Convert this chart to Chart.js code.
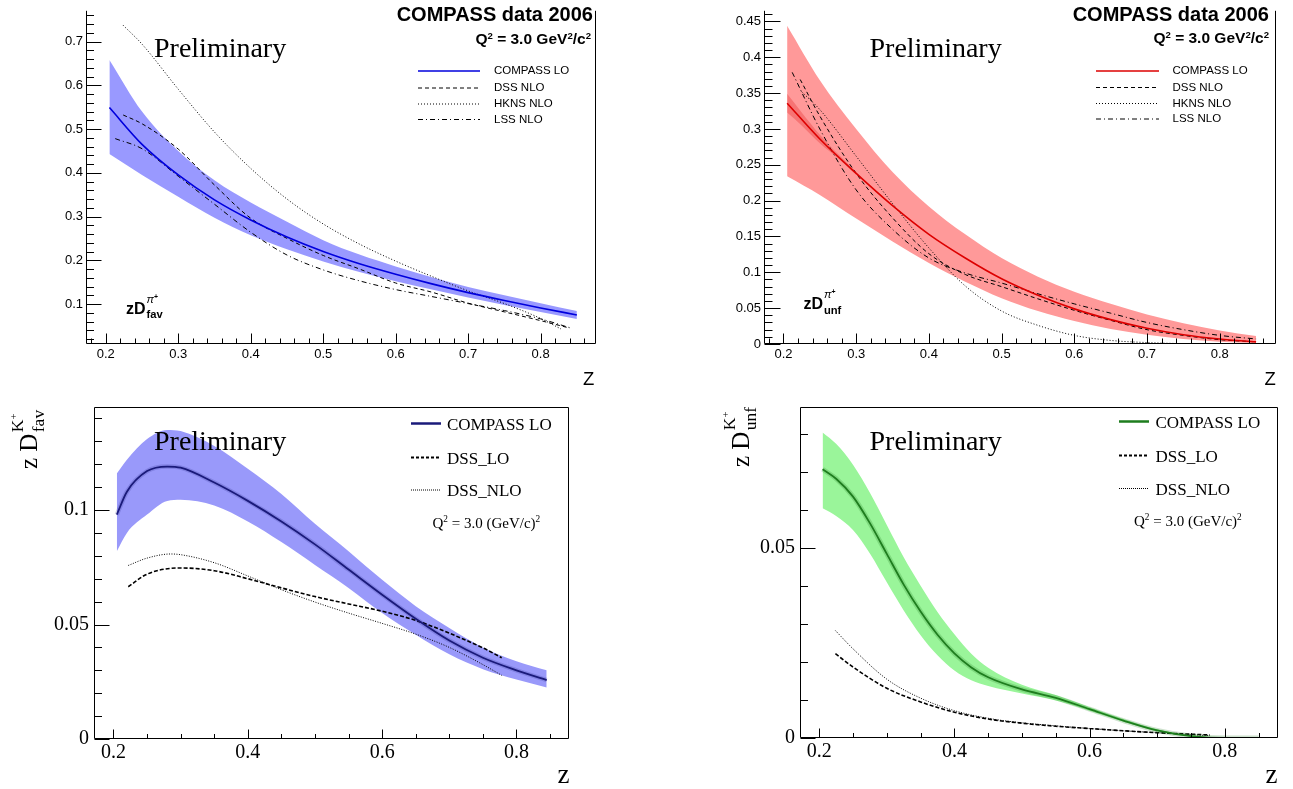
<!DOCTYPE html>
<html>
<head>
<meta charset="utf-8">
<script src="https://cdn.jsdelivr.net/npm/chart.js@4.4.1/dist/chart.umd.min.js"></script>
<style>
  body { margin: 0; background: #fff; width: 1293px; height: 789px; overflow: hidden; position: relative; }
  canvas { position: absolute; }
  svg { position: absolute; left: 0; top: 0; }
  .t { position: absolute; white-space: nowrap; line-height: 1; color: #000; }
  .sans { font-family: "Liberation Sans", Arial, sans-serif; }
  .serif { font-family: "Liberation Serif", "Times New Roman", serif; }
  .b { font-weight: bold; }
  .vc { transform: translateY(-50%); }
  .rc { transform: translate(-100%, -50%); }
  sup { font-size: 0.62em; vertical-align: 0.55em; line-height: 0; }
  .ss { position: relative; display: inline-block; width: 1.2em; height: 0; }
  .ss .u { position: absolute; left: 0.08em; bottom: 0.75em; font-size: 0.7em; line-height: 1; }
  .ss .d { position: absolute; left: 0.08em; top: -0.4em; font-size: 0.7em; line-height: 1; }
  .serif .ss .u { bottom: 0.62em; }
  .rot { transform: rotate(-90deg); transform-origin: 0 0; }
</style>
</head>
<body>
<canvas id="c1" width="600" height="390" style="left:0;top:0;width:600px;height:390px"></canvas>
<canvas id="c2" width="640" height="390" style="left:640px;top:0;width:640px;height:390px"></canvas>
<canvas id="c3" width="600" height="399" style="left:0;top:390px;width:600px;height:399px"></canvas>
<canvas id="c4" width="653" height="399" style="left:640px;top:390px;width:653px;height:399px"></canvas>

<svg width="1293" height="789">
  <!-- top left legend -->
  <line x1="418" y1="71" x2="480" y2="71" stroke="#0000dd" stroke-width="1.5"/>
  <line x1="418" y1="88" x2="480" y2="88" stroke="#000" stroke-width="1" stroke-dasharray="4 3"/>
  <line x1="418" y1="104" x2="480" y2="104" stroke="#000" stroke-width="1" stroke-dasharray="1 2"/>
  <line x1="418" y1="119.5" x2="480" y2="119.5" stroke="#000" stroke-width="1" stroke-dasharray="5 3 1 3"/>
  <!-- top right legend -->
  <line x1="1096" y1="71" x2="1159" y2="71" stroke="#dd0000" stroke-width="1.5"/>
  <line x1="1096" y1="87.5" x2="1159" y2="87.5" stroke="#000" stroke-width="1" stroke-dasharray="4 3"/>
  <line x1="1096" y1="103.5" x2="1159" y2="103.5" stroke="#000" stroke-width="1" stroke-dasharray="1 2"/>
  <line x1="1096" y1="119" x2="1159" y2="119" stroke="#000" stroke-width="1" stroke-dasharray="5 3 1 3"/>
  <!-- bottom left legend -->
  <line x1="411" y1="423.5" x2="441" y2="423.5" stroke="#1a1a7a" stroke-width="2.5"/>
  <line x1="411" y1="457.5" x2="441" y2="457.5" stroke="#000" stroke-width="2" stroke-dasharray="3 2"/>
  <line x1="411" y1="490" x2="441" y2="490" stroke="#000" stroke-width="1" stroke-dasharray="1 1"/>
  <!-- bottom right legend -->
  <line x1="1119" y1="421.5" x2="1149" y2="421.5" stroke="#1e7d1e" stroke-width="2.5"/>
  <line x1="1119" y1="455.5" x2="1149" y2="455.5" stroke="#000" stroke-width="2" stroke-dasharray="3 2"/>
  <line x1="1119" y1="488.5" x2="1149" y2="488.5" stroke="#000" stroke-width="1" stroke-dasharray="1 1"/>
</svg>

<!-- top left texts -->
<div class="t sans b rc" style="left:593px;top:14px;font-size:20px">COMPASS data 2006</div>
<div class="t sans b rc" style="left:591px;top:38.5px;font-size:15.5px">Q<sup>2</sup> = 3.0 GeV<sup>2</sup>/c<sup>2</sup></div>
<div class="t sans vc" style="left:494px;top:71px;font-size:11.5px">COMPASS LO</div>
<div class="t sans vc" style="left:494px;top:88px;font-size:11.5px">DSS NLO</div>
<div class="t sans vc" style="left:494px;top:104px;font-size:11.5px">HKNS NLO</div>
<div class="t sans vc" style="left:494px;top:119.5px;font-size:11.5px">LSS NLO</div>
<div class="t serif vc" style="left:154px;top:48px;font-size:28px">Preliminary</div>
<div class="t sans b" style="left:126px;top:300.8px;font-size:16px">zD<span class="ss"><span class="u"><i style="font-weight:normal">π</i><sup>+</sup></span><span class="d">fav</span></span></div>
<div class="t sans" style="left:583px;top:369.5px;font-size:18.5px">Z</div>

<!-- top right texts -->
<div class="t sans b rc" style="left:1269px;top:13.5px;font-size:20px">COMPASS data 2006</div>
<div class="t sans b rc" style="left:1269px;top:37.5px;font-size:15.5px">Q<sup>2</sup> = 3.0 GeV<sup>2</sup>/c<sup>2</sup></div>
<div class="t sans vc" style="left:1172.5px;top:71px;font-size:11.5px">COMPASS LO</div>
<div class="t sans vc" style="left:1172.5px;top:87.5px;font-size:11.5px">DSS NLO</div>
<div class="t sans vc" style="left:1172.5px;top:103.5px;font-size:11.5px">HKNS NLO</div>
<div class="t sans vc" style="left:1172.5px;top:119px;font-size:11.5px">LSS NLO</div>
<div class="t serif vc" style="left:869.5px;top:48px;font-size:28px">Preliminary</div>
<div class="t sans b" style="left:803.5px;top:296px;font-size:16px">zD<span class="ss"><span class="u"><i style="font-weight:normal">π</i><sup>+</sup></span><span class="d">unf</span></span></div>
<div class="t sans" style="left:1264.5px;top:369.5px;font-size:18.5px">Z</div>

<!-- bottom left texts -->
<div class="t serif rot" style="left:16px;top:469px;font-size:25px">z D<span class="ss"><span class="u">K<sup>+</sup></span><span class="d">fav</span></span></div>
<div class="t serif vc" style="left:447px;top:423.5px;font-size:17px">COMPASS LO</div>
<div class="t serif vc" style="left:447px;top:457.5px;font-size:17px">DSS_LO</div>
<div class="t serif vc" style="left:447px;top:490px;font-size:17px">DSS_NLO</div>
<div class="t serif vc" style="left:432.5px;top:523px;font-size:15px">Q<sup>2</sup> = 3.0 (GeV/c)<sup>2</sup></div>
<div class="t serif vc" style="left:154px;top:441px;font-size:28px">Preliminary</div>
<div class="t serif" style="left:557.5px;top:760.5px;font-size:27px">z</div>

<!-- bottom right texts -->
<div class="t serif rot" style="left:728px;top:467px;font-size:25px">z D<span class="ss"><span class="u">K<sup>+</sup></span><span class="d">unf</span></span></div>
<div class="t serif vc" style="left:1155.5px;top:421.5px;font-size:17px">COMPASS LO</div>
<div class="t serif vc" style="left:1155.5px;top:455.5px;font-size:17px">DSS_LO</div>
<div class="t serif vc" style="left:1155.5px;top:488.5px;font-size:17px">DSS_NLO</div>
<div class="t serif vc" style="left:1134px;top:521px;font-size:15px">Q<sup>2</sup> = 3.0 (GeV/c)<sup>2</sup></div>
<div class="t serif vc" style="left:869.5px;top:441px;font-size:28px">Preliminary</div>
<div class="t serif" style="left:1265.5px;top:760.5px;font-size:27px">z</div>

<script>
// ---------- top left: zD_fav pi+ ----------
const p1Z = [0.205, 0.25, 0.3, 0.35, 0.4, 0.45, 0.5, 0.55, 0.6, 0.65, 0.7, 0.75, 0.8, 0.85];
const p1Compass = [0.549, 0.465, 0.395, 0.338, 0.292, 0.253, 0.220, 0.192, 0.168, 0.146, 0.126, 0.108, 0.091, 0.075];
const p1Upper = [0.658, 0.540, 0.450, 0.383, 0.332, 0.288, 0.246, 0.213, 0.186, 0.161, 0.139, 0.120, 0.102, 0.084];
const p1Lower = [0.443, 0.395, 0.345, 0.297, 0.257, 0.225, 0.197, 0.173, 0.152, 0.133, 0.115, 0.098, 0.082, 0.066];
const p1DssZ = [0.224, 0.25, 0.3, 0.35, 0.4, 0.45, 0.5, 0.55, 0.6, 0.65, 0.7, 0.75, 0.8, 0.84];
const p1Dss = [0.532, 0.512, 0.454, 0.372, 0.296, 0.250, 0.211, 0.180, 0.148, 0.127, 0.102, 0.082, 0.062, 0.045];
const p1HknsZ = [0.224, 0.25, 0.3, 0.35, 0.4, 0.45, 0.5, 0.55, 0.6, 0.65, 0.7, 0.75, 0.8, 0.828];
const p1Hkns = [0.737, 0.694, 0.591, 0.493, 0.410, 0.340, 0.283, 0.237, 0.198, 0.163, 0.130, 0.101, 0.067, 0.043];
const p1LssZ = [0.213, 0.25, 0.3, 0.35, 0.4, 0.45, 0.5, 0.55, 0.6, 0.65, 0.7, 0.75, 0.8, 0.84];
const p1Lss = [0.478, 0.455, 0.392, 0.328, 0.264, 0.212, 0.178, 0.153, 0.133, 0.117, 0.101, 0.085, 0.066, 0.046];
const p1XTicks = [0.2, 0.3, 0.4, 0.5, 0.6, 0.7, 0.8];
const p1XLabels = ["0.2", "0.3", "0.4", "0.5", "0.6", "0.7", "0.8"];
const p1YTicks = [0.1, 0.2, 0.3, 0.4, 0.5, 0.6, 0.7];
const p1YLabels = ["0.1", "0.2", "0.3", "0.4", "0.5", "0.6", "0.7"];

// ---------- top right: zD_unf pi+ ----------
const p2Z = [0.205, 0.25, 0.3, 0.35, 0.4, 0.45, 0.5, 0.55, 0.6, 0.65, 0.7, 0.75, 0.8, 0.85];
const p2Compass = [0.336, 0.286, 0.238, 0.193, 0.153, 0.120, 0.091, 0.068, 0.049, 0.034, 0.022, 0.013, 0.007, 0.003];
const p2Upper = [0.444, 0.368, 0.300, 0.240, 0.192, 0.153, 0.120, 0.094, 0.073, 0.056, 0.041, 0.029, 0.019, 0.011];
const p2Lower = [0.234, 0.208, 0.175, 0.143, 0.113, 0.087, 0.064, 0.046, 0.032, 0.021, 0.013, 0.007, 0.003, 0.001];
const p2InnerZ = [0.205, 0.225, 0.25, 0.275, 0.3];
const p2InnerUp = [0.349, 0.323, 0.292, 0.265, 0.240];
const p2InnerLo = [0.323, 0.305, 0.280, 0.259, 0.236];
const p2DssZ = [0.223, 0.25, 0.3, 0.35, 0.4, 0.45, 0.5, 0.55, 0.6, 0.65, 0.7, 0.75, 0.8, 0.85];
const p2Dss = [0.369, 0.318, 0.238, 0.176, 0.126, 0.097, 0.080, 0.063, 0.047, 0.033, 0.020, 0.012, 0.006, 0.003];
const p2HknsZ = [0.225, 0.25, 0.3, 0.35, 0.4, 0.45, 0.5, 0.55, 0.6, 0.65, 0.7, 0.75, 0.8, 0.85];
const p2Hkns = [0.352, 0.327, 0.262, 0.196, 0.134, 0.081, 0.046, 0.026, 0.012, 0.005, 0.002, 0.0005, 0.0, 0.0];
const p2LssZ = [0.212, 0.25, 0.3, 0.35, 0.4, 0.45, 0.5, 0.55, 0.6, 0.65, 0.7, 0.75, 0.8, 0.85];
const p2Lss = [0.379, 0.300, 0.215, 0.160, 0.120, 0.099, 0.085, 0.070, 0.056, 0.043, 0.030, 0.020, 0.012, 0.007];
const p2XTicks = p1XTicks;
const p2XLabels = p1XLabels;
const p2YTicks = [0, 0.05, 0.1, 0.15, 0.2, 0.25, 0.3, 0.35, 0.4, 0.45];
const p2YLabels = ["0", "0.05", "0.1", "0.15", "0.2", "0.25", "0.3", "0.35", "0.4", "0.45"];

// ---------- bottom left: z D_fav K+ ----------
const p3Z = [0.205, 0.22, 0.25, 0.28, 0.3, 0.35, 0.4, 0.45, 0.5, 0.55, 0.6, 0.65, 0.7, 0.75, 0.8, 0.845];
const p3Compass = [0.098, 0.108, 0.117, 0.119, 0.1185, 0.112, 0.104, 0.095, 0.085, 0.074, 0.063, 0.0525, 0.043, 0.0355, 0.030, 0.0257];
const p3Upper = [0.116, 0.122, 0.131, 0.135, 0.1345, 0.128, 0.118, 0.107, 0.094, 0.082, 0.0695, 0.058, 0.0485, 0.040, 0.034, 0.030];
const p3Lower = [0.082, 0.090, 0.098, 0.104, 0.1045, 0.102, 0.095, 0.086, 0.076, 0.066, 0.055, 0.0455, 0.037, 0.0305, 0.026, 0.0225];
const p3DssLoZ = [0.222, 0.25, 0.3, 0.35, 0.4, 0.45, 0.5, 0.55, 0.6, 0.65, 0.7, 0.75, 0.778];
const p3DssLo = [0.0665, 0.072, 0.0747, 0.0735, 0.0700, 0.0660, 0.0622, 0.0590, 0.0558, 0.0518, 0.0462, 0.0398, 0.0355];
const p3DssNloZ = [0.222, 0.25, 0.285, 0.3, 0.35, 0.4, 0.45, 0.5, 0.55, 0.6, 0.65, 0.7, 0.75, 0.778];
const p3DssNlo = [0.0758, 0.079, 0.0808, 0.0805, 0.077, 0.0712, 0.0652, 0.0598, 0.0550, 0.0505, 0.0458, 0.0400, 0.0325, 0.0278];
const p3XTicks = [0.2, 0.4, 0.6, 0.8];
const p3XLabels = ["0.2", "0.4", "0.6", "0.8"];
const p3YTicks = [0, 0.05, 0.1];
const p3YLabels = ["0", "0.05", "0.1"];

// ---------- bottom right: z D_unf K+ ----------
const p4Z = [0.205, 0.225, 0.25, 0.275, 0.3, 0.325, 0.35, 0.375, 0.4, 0.425, 0.45, 0.5, 0.55, 0.6, 0.65, 0.7, 0.75, 0.8, 0.85];
const p4Compass = [0.0708, 0.0683, 0.0636, 0.0566, 0.0485, 0.0404, 0.0333, 0.0272, 0.0223, 0.0186, 0.0160, 0.0128, 0.0106, 0.0076, 0.0046, 0.0020, 0.0005, 0.0, 0.0];
const p4Upper = [0.0805, 0.0775, 0.0720, 0.0646, 0.0561, 0.0476, 0.0401, 0.0332, 0.0273, 0.0222, 0.0185, 0.0140, 0.0113, 0.0081, 0.0050, 0.0023, 0.0007, 0.0001, 0.0];
const p4Lower = [0.0605, 0.0585, 0.0548, 0.0486, 0.0410, 0.0336, 0.0271, 0.0218, 0.0178, 0.0152, 0.0137, 0.0117, 0.0099, 0.0072, 0.0043, 0.0018, 0.0004, 0.0, 0.0];
const p4DssZ = [0.224, 0.25, 0.3, 0.35, 0.4, 0.45, 0.5, 0.55, 0.6, 0.65, 0.7, 0.75, 0.778];
const p4DssLo = [0.0222, 0.0187, 0.0131, 0.0095, 0.0068, 0.0050, 0.0039, 0.0031, 0.0025, 0.0019, 0.0014, 0.0010, 0.0008];
const p4DssNlo = [0.0283, 0.0235, 0.0155, 0.0105, 0.0072, 0.0052, 0.0040, 0.0032, 0.0025, 0.0019, 0.0014, 0.0009, 0.0006];
const p4XTicks = p3XTicks;
const p4XLabels = p3XLabels;
const p4YTicks = [0, 0.05];
const p4YLabels = ["0", "0.05"];

Chart.defaults.color = "#000";

function pts(zs, vs) {
  return zs.map((z, i) => ({ x: z, y: vs[i] }));
}

// major + minor ticks, ROOT style
function tickList(min, max, step, majors, labels) {
  const out = [];
  const k0 = Math.ceil(min / step - 1e-9);
  const k1 = Math.floor(max / step + 1e-9);
  for (let k = k0; k <= k1; k++) {
    const v = +(k * step).toFixed(6);
    const j = majors.findIndex((m) => Math.abs(m - v) < 1e-9);
    out.push({ value: v, major: j >= 0, lab: j >= 0 ? labels[j] : "" });
  }
  return out;
}

function band(zs, lo, hi, color, order) {
  return [
    { data: pts(zs, lo), borderColor: "transparent", borderWidth: 0, fill: false, order: order },
    { data: pts(zs, hi), borderColor: "transparent", borderWidth: 0, fill: "-1", backgroundColor: color, order: order },
  ];
}

function curve(zs, vs, color, width, dash, order) {
  return { data: pts(zs, vs), borderColor: color, borderWidth: width, borderDash: dash, fill: false, order: order };
}

// frame + ticks drawn inside the frame, like ROOT
const rootFrame = {
  id: "rootFrame",
  afterDraw(chart, args, opts) {
    const ctx = chart.ctx;
    const a = chart.chartArea;
    const xs = chart.scales.x;
    const ys = chart.scales.y;
    ctx.save();
    ctx.strokeStyle = "#000";
    ctx.lineWidth = 1;
    ctx.beginPath();
    const L = Math.round(a.left) + 0.5, R = Math.round(a.right) - 0.5;
    const T = Math.round(a.top) + 0.5, B = Math.round(a.bottom) - 0.5;
    if (opts.open) {
      ctx.moveTo(L, a.top); ctx.lineTo(L, B); ctx.lineTo(R, B); ctx.lineTo(R, a.top);
    } else {
      ctx.rect(L, T, R - L, B - T);
    }
    xs.ticks.forEach((t) => {
      const px = Math.round(xs.getPixelForValue(t.value)) + 0.5;
      const len = t.major ? opts.xLen : opts.xLen / 2;
      ctx.moveTo(px, B); ctx.lineTo(px, B - len);
    });
    ys.ticks.forEach((t) => {
      const py = Math.round(ys.getPixelForValue(t.value)) + 0.5;
      const len = t.major ? opts.yLen : opts.yLen / 2;
      ctx.moveTo(L, py); ctx.lineTo(L + len, py);
    });
    ctx.stroke();
    ctx.restore();
  },
};

function axis(def, font, padding, fit) {
  return {
    type: "linear",
    min: def.min,
    max: def.max,
    grid: { display: false, drawTicks: false },
    border: { display: false },
    ticks: {
      autoSkip: false, maxRotation: 0, minRotation: 0,
      padding: padding, font: font, color: "#000",
      callback: (v, i, t) => t[i].lab,
    },
    afterBuildTicks: (s) => { s.ticks = tickList(def.min, def.max, def.step, def.majors, def.labels); },
    afterFit: fit,
  };
}

function drawPanel(id, o) {
  return new Chart(document.getElementById(id), {
    type: "line",
    data: { datasets: o.datasets },
    options: {
      responsive: false,
      animation: false,
      devicePixelRatio: 1,
      events: [],
      layout: { autoPadding: false, padding: o.pad },
      elements: { line: { cubicInterpolationMode: "monotone" }, point: { radius: 0 } },
      plugins: { legend: { display: false }, tooltip: { enabled: false }, rootFrame: o.frame },
      scales: {
        x: axis(o.x, o.font, o.xPad, (s) => { s.height = o.xH; }),
        y: axis(o.y, o.font, o.yPad, (s) => { s.width = o.yW; }),
      },
    },
    plugins: [rootFrame],
  });
}

const sansFont = { family: "'Liberation Sans', Arial, sans-serif", size: 13 };
const serifFont = { family: "'Liberation Serif', 'Times New Roman', serif", size: 20 };

drawPanel("c1", {
  datasets: [
    ...band(p1Z, p1Lower, p1Upper, "#9999ff", 10),
    curve(p1DssZ, p1Dss, "#000", 1, [4, 3], 2),
    curve(p1HknsZ, p1Hkns, "#000", 1, [1, 2], 2),
    curve(p1LssZ, p1Lss, "#000", 1, [5, 3, 1, 3], 2),
    curve(p1Z, p1Compass, "#0000dd", 1.6, [], 0),
  ],
  pad: { left: 0, right: 4, top: 0, bottom: 0 },
  x: { min: 0.1727, max: 0.8764, step: 0.02, majors: p1XTicks, labels: p1XLabels },
  y: { min: 0.0086, max: 0.7702, step: 0.02, majors: p1YTicks, labels: p1YLabels },
  font: sansFont, xPad: 3, yPad: 3, xH: 46, yW: 86,
  frame: { open: true, xLen: 10, yLen: 15 },
});

drawPanel("c2", {
  datasets: [
    ...band(p2Z, p2Lower, p2Upper, "#ff9999", 10),
    ...band(p2InnerZ, p2InnerLo, p2InnerUp, "rgba(235,70,70,0.45)", 9),
    curve(p2DssZ, p2Dss, "#000", 1, [4, 3], 2),
    curve(p2HknsZ, p2Hkns, "#000", 1, [1, 2], 2),
    curve(p2LssZ, p2Lss, "#000", 1, [5, 3, 1, 3], 2),
    curve(p2Z, p2Compass, "#dd0000", 1.6, [], 0),
  ],
  pad: { left: 0, right: 4, top: 0, bottom: 0 },
  x: { min: 0.1732, max: 0.8774, step: 0.02, majors: p2XTicks, labels: p2XLabels },
  y: { min: 0, max: 0.4649, step: 0.01, majors: p2YTicks, labels: p2YLabels },
  font: sansFont, xPad: 3, yPad: 3, xH: 46, yW: 124,
  frame: { open: true, xLen: 10, yLen: 16 },
});

drawPanel("c3", {
  datasets: [
    ...band(p3Z, p3Lower, p3Upper, "#9999fa", 10),
    curve(p3DssLoZ, p3DssLo, "#000", 1.6, [4, 2], 2),
    curve(p3DssNloZ, p3DssNlo, "#000", 1, [1, 1.5], 2),
    curve(p3Z, p3Compass, "rgba(26,26,122,0.18)", 4.5, [], 1),
    curve(p3Z, p3Compass, "#1a1a7a", 1.8, [], 0),
  ],
  pad: { left: 0, right: 31, top: 16, bottom: 0 },
  x: { min: 0.171, max: 0.8782, step: 0.05, majors: p3XTicks, labels: p3XLabels },
  y: { min: 0, max: 0.145, step: 0.01, majors: p3YTicks, labels: p3YLabels },
  font: serifFont, xPad: 2, yPad: 5, xH: 50, yW: 94,
  frame: { open: false, xLen: 9, yLen: 15 },
});

drawPanel("c4", {
  datasets: [
    ...band(p4Z, p4Lower, p4Upper, "#9af59a", 10),
    curve(p4DssZ, p4DssLo, "#000", 1.6, [4, 2], 2),
    curve(p4DssZ, p4DssNlo, "#000", 1, [1, 1.5], 2),
    curve(p4Z, p4Compass, "rgba(30,125,30,0.22)", 5, [], 1),
    curve(p4Z, p4Compass, "#1e7d1e", 1.8, [], 0),
  ],
  pad: { left: 0, right: 15, top: 14, bottom: 0 },
  x: { min: 0.1716, max: 0.8787, step: 0.05, majors: p4XTicks, labels: p4XLabels },
  y: { min: 0, max: 0.0872, step: 0.01, majors: p4YTicks, labels: p4YLabels },
  font: serifFont, xPad: 2, yPad: 5, xH: 51, yW: 160,
  frame: { open: false, xLen: 9, yLen: 15 },
});
</script>
</body>
</html>
